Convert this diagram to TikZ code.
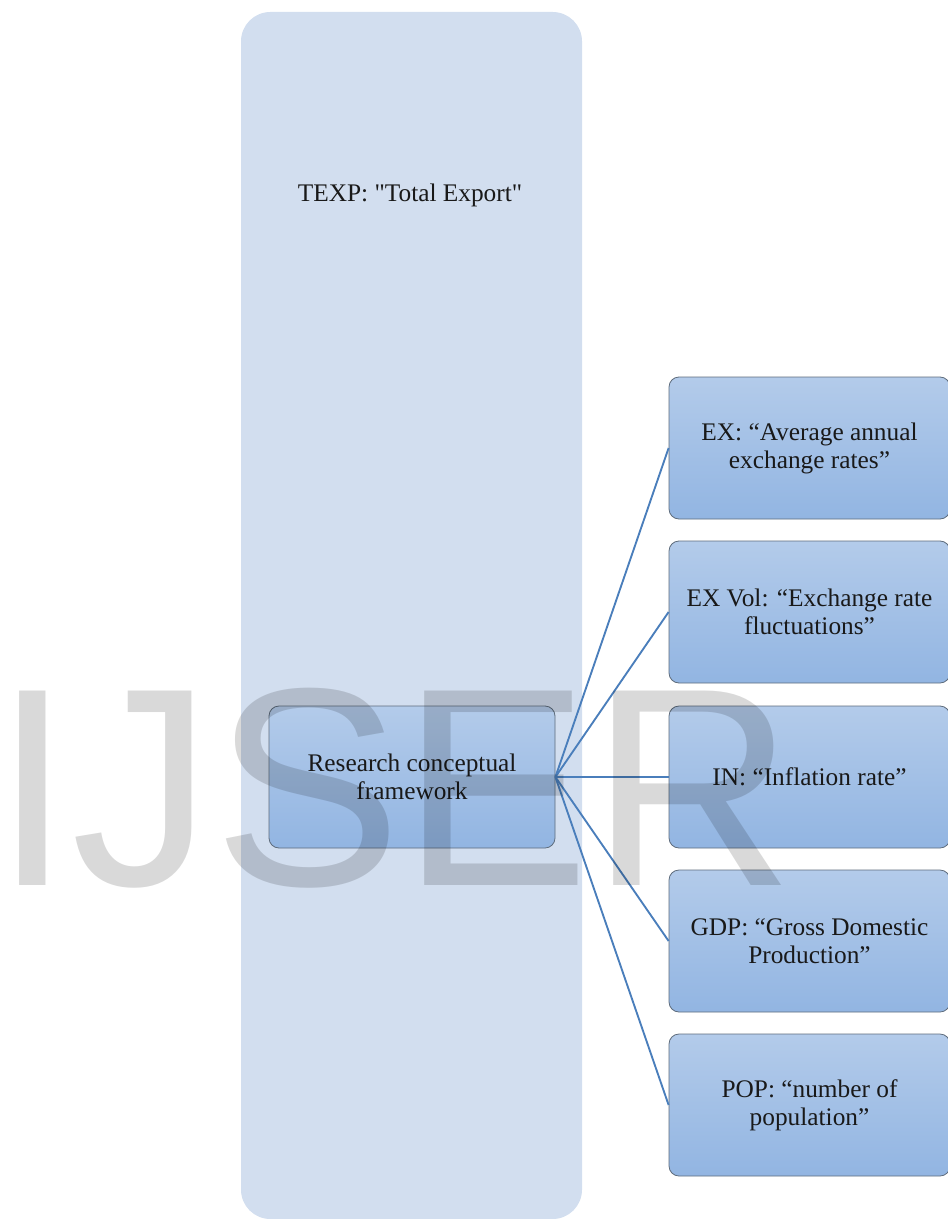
\documentclass[tikz,border=0pt]{standalone}
\usepackage{fontspec}
\setmainfont{Liberation Serif}
\newfontfamily\marksans{Liberation Sans}
\usepackage{xcolor}
\usepackage{tikz}

\definecolor{panelblue}{HTML}{D2DEEF}
\definecolor{boxtop}{HTML}{B3CBEA}
\definecolor{boxbottom}{HTML}{92B5E2}
\definecolor{boxline}{HTML}{5E6C7C}
\definecolor{linkblue}{HTML}{4A7EBB}

\tikzset{
    panel/.style={fill=panelblue,rounded corners=22pt,inner sep=0pt,
        minimum width=255.75pt,minimum height=905.25pt},
    boxtext/.style={align=center,font=\fontsize{19}{21}\selectfont,text=black!90},
    framebox/.style={boxtext,draw=boxline,line width=0.6pt,rounded corners=7.5pt,
        top color=boxtop,bottom color=boxbottom,minimum width=214.5pt,minimum height=106.5pt},
    factor/.style={framebox,minimum width=210.75pt},
    link/.style={draw=linkblue,line width=1.4pt}
}

\begin{document}
\begin{tikzpicture}[x=0.75pt,y=-0.75pt]
    \useasboundingbox (0,0) rectangle (948,1219);
    % dependent variable panel
    \node[panel] (texp) at (411.5,615.5) {};
    \node[boxtext] (texplabel) at (410,195) {TEXP: \textquotedbl Total Export\textquotedbl};
    % framework
    \node[framebox] (frame) at (412,777) {Research conceptual\\framework};
    % independent variables
    \node[factor] (ex) at (809.5,448) {EX: “Average annual\\exchange rates”};
    \node[factor] (exvol) at (809.5,612) {EX Vol: “Exchange rate\\fluctuations”};
    \node[factor] (in) at (809.5,777) {IN: “Inflation rate”};
    \node[factor] (gdp) at (809.5,941) {GDP: “Gross Domestic\\Production”};
    \node[factor] (pop) at (809.5,1105) {POP: “number of\\population”};
    \foreach \v in {ex,exvol,in,gdp,pop}
        \draw[link] (frame.east) -- (\v.west);
    % watermark
    \node[anchor=base west,inner sep=0pt,text=black,text opacity=0.15,
        font=\marksans\fontsize{212}{212}\selectfont] (mark) at (-7,885) {IJSER};
\end{tikzpicture}
\end{document}
